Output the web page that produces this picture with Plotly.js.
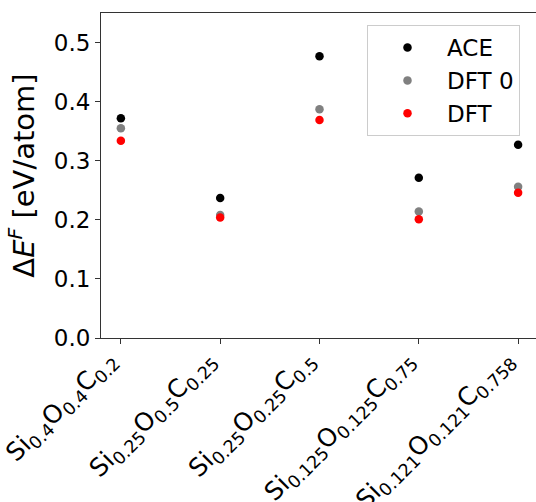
<!DOCTYPE html>
<html>
<head>
<meta charset="utf-8">
<script src="https://cdn.plot.ly/plotly-3.0.1.min.js"></script>
<style>html,body{margin:0;padding:0;background:#fff;}</style>
</head>
<body>
<div id="chart" style="width:536px;height:502px;"></div>
<script>
const categories = [
  'Si<sub>0.4</sub>O<sub>0.4</sub>C<sub>0.2</sub>',
  'Si<sub>0.25</sub>O<sub>0.5</sub>C<sub>0.25</sub>',
  'Si<sub>0.25</sub>O<sub>0.25</sub>C<sub>0.5</sub>',
  'Si<sub>0.125</sub>O<sub>0.125</sub>C<sub>0.75</sub>',
  'Si<sub>0.121</sub>O<sub>0.121</sub>C<sub>0.758</sub>'
];
const aceValues  = [0.372, 0.237, 0.477, 0.271, 0.327];
const dft0Values = [0.355, 0.208, 0.387, 0.214, 0.256];
const dftValues  = [0.334, 0.204, 0.369, 0.201, 0.246];
const yTicks = [0.0, 0.1, 0.2, 0.3, 0.4, 0.5];
const yTickLabels = ['0.0', '0.1', '0.2', '0.3', '0.4', '0.5'];

const FONT = 'DejaVu Sans, sans-serif';
function series(name, vals, color) {
  return {
    type: 'scatter', mode: 'markers', name: name,
    x: categories, y: vals,
    marker: {color: color, size: 8.5, line: {width: 0}},
    cliponaxis: false
  };
}
const data = [
  series('ACE', aceValues, '#000000'),
  series('DFT 0', dft0Values, '#808080'),
  series('DFT', dftValues, '#ff0000')
];
const layout = {
  width: 536, height: 502,
  margin: {l: 101, r: 0, t: 13, b: 164},
  paper_bgcolor: '#ffffff', plot_bgcolor: '#ffffff',
  font: {family: FONT, size: 23, color: '#000000'},
  showlegend: true,
  legend: {
    x: 0.6115, y: 0.963, xanchor: 'left', yanchor: 'top',
    bgcolor: 'rgba(255,255,255,0.8)', bordercolor: '#cccccc', borderwidth: 1,
    font: {family: FONT, size: 23, color: '#000000'},
    itemwidth: 69
  },
  xaxis: {
    type: 'category', range: [-0.2, 4.18],
    showgrid: false, zeroline: false,
    showline: true, linecolor: '#333333', linewidth: 1, mirror: true,
    ticks: 'outside', ticklen: 5, tickwidth: 1, tickcolor: '#333333',
    tickangle: -45, automargin: false, ticklabelstandoff: -9, ticklabelshift: -12,
    tickfont: {family: FONT, size: 25, color: '#000000'}
  },
  yaxis: {
    range: [0, 0.55], tickvals: yTicks, ticktext: yTickLabels,
    showgrid: false, zeroline: false,
    showline: true, linecolor: '#333333', linewidth: 1,
    ticks: 'outside', ticklen: 5, tickwidth: 1, tickcolor: '#333333',
    automargin: true,
    tickfont: {family: FONT, size: 23, color: '#000000'},
    title: {text: 'Δ<i>E</i><sup><i>F</i></sup> [eV/atom]', font: {family: FONT, size: 29, color: '#000000'}, standoff: 10}
  }
};
Plotly.newPlot('chart', data, layout, {displayModeBar: false, staticPlot: true});
</script>
</body>
</html>
